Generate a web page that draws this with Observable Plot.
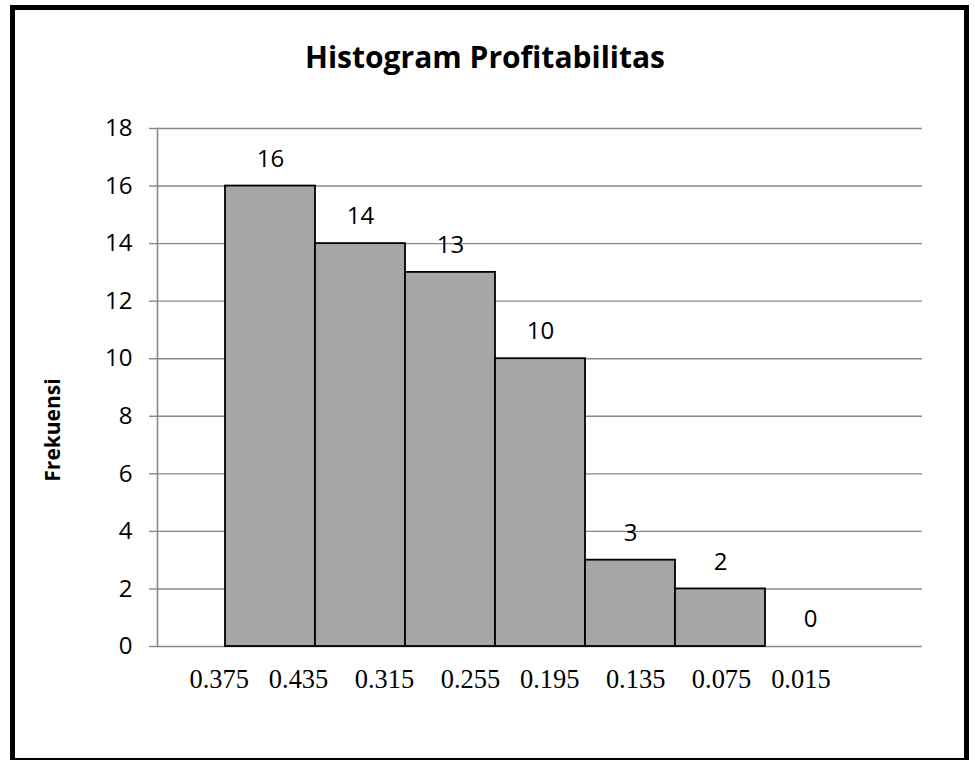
<!DOCTYPE html>
<html>
<head>
<meta charset="utf-8">
<script src="https://cdn.jsdelivr.net/npm/d3@7"></script>
<script src="https://cdn.jsdelivr.net/npm/@observablehq/plot@0.6"></script>
<style>
  html, body { margin: 0; padding: 0; background: #fff; }
  #wrap { position: relative; width: 975px; height: 760px; overflow: hidden; background: #fff; }
  #border { position: absolute; left: 10px; top: 5px; width: 959px; height: 758px; box-sizing: border-box; border: 5px solid #000; }
  #title { position: absolute; left: 0; top: 42px; width: 970px; text-align: center; font-family: "Open Sans", sans-serif; font-weight: bold; font-size: 30px; line-height: 30px; color: #000; }
  #ylabel { position: absolute; left: 51.5px; top: 430px; transform: translate(-50%, -50%) rotate(-90deg); font-family: "Open Sans", sans-serif; font-weight: bold; font-size: 21px; line-height: 21px; white-space: nowrap; color: #000; }
  #chart { position: absolute; left: 0; top: 0; }
</style>
</head>
<body>
<div id="wrap">
  <div id="chart"></div>
  <div id="border"></div>
  <div id="title">Histogram Profitabilitas</div>
  <div id="ylabel"></div>
</div>
<script>
// ---- data ----
const bins = [1, 2, 3, 4, 5, 6, 7];                 // class index
const counts = [16, 14, 13, 10, 3, 2, 0];           // frequency per class
const xLabels = ["0.375", "0.435", "0.315", "0.255", "0.195", "0.135", "0.075", "0.015"];
const labelGaps = [3, 4, 4, 3, 4, 4, 3];            // spaces typed between labels
const yTicks = [0, 2, 4, 6, 8, 10, 12, 14, 16, 18];
const yLabel = "Frekuensi";

const data = bins.map((b, i) => ({bin: b, count: counts[i]}));
const labelLine = xLabels.map((s, i) => i < labelGaps.length ? s + "\u00a0".repeat(labelGaps[i]) : s).join("");

const grey = "#888888";

const chart = Plot.plot({
  width: 975,
  height: 720,
  marginLeft: 157,
  marginRight: 53,
  marginTop: 128,
  marginBottom: 74,
  style: {fontFamily: "'Open Sans', sans-serif", color: "#000", background: "transparent"},
  x: {type: "band", domain: bins, paddingInner: 0, paddingOuter: 0.75, axis: null},
  y: {domain: [0, 18], ticks: yTicks, axis: null},
  marks: [
    Plot.gridY(yTicks, {stroke: grey, strokeOpacity: 1, strokeWidth: 1.4}),
    Plot.barY(data.filter(d => d.count > 0), {x: "bin", y: "count", fill: "#a6a6a6", stroke: "#000", strokeWidth: 1.8}),
    Plot.frame({anchor: "left", stroke: grey, strokeWidth: 1.6}),
    Plot.axisY({ticks: yTicks, tickSize: 8, tickPadding: 17, stroke: grey, strokeWidth: 1.4, fill: "#000", fontSize: 24, label: null}),
    Plot.text(data, {x: "bin", y: "count", text: d => String(d.count), dy: -27, fontSize: 24, fill: "#000", lineAnchor: "middle"}),
    Plot.text([labelLine], {x: () => bins[0], y: () => 0, text: d => d, textAnchor: "start", lineAnchor: "middle", dx: -81, dy: 33, fontFamily: "'Liberation Serif', 'Times New Roman', serif", fontSize: 26.45, fill: "#000"})
  ]
});
document.getElementById("chart").appendChild(chart);
document.getElementById("ylabel").textContent = yLabel;
</script>
</body>
</html>
